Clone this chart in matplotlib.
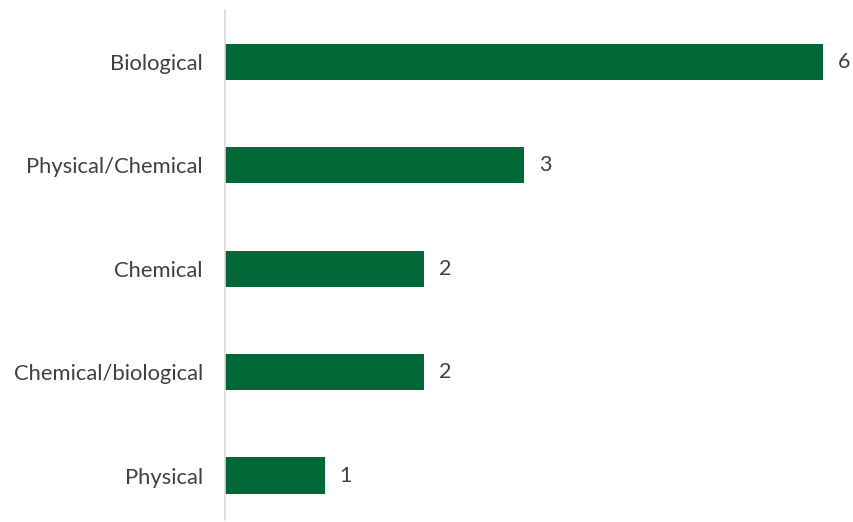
import matplotlib
matplotlib.use("Agg")
import matplotlib.pyplot as plt

categories = ["Physical", "Chemical/biological", "Chemical", "Physical/Chemical", "Biological"]
values = [1, 2, 2, 3, 6]

bar_color = "#006837"
text_color = "#404040"

fig = plt.figure(figsize=(8.54, 5.22), dpi=100)
ax = fig.add_axes([225/854, 2/522, 1 - 225/854, 510/522])

ypos = list(range(len(categories)))
ax.barh(ypos, values, height=0.35, color=bar_color)
for y, v in zip(ypos, values):
    ax.text(v + 0.15, y, str(v), va="center", ha="left", fontsize=15.5, color=text_color,
            family="Lato")

ax.set_xlim(0, (854 - 225) / 99.7)
ax.set_ylim(-0.43, 4.5)
ax.set_yticks(ypos)
ax.set_yticklabels(categories, fontsize=15.8, color=text_color, family="Lato")
ax.tick_params(axis="y", length=0, pad=16)
ax.set_xticks([])
for s in ["top", "right", "bottom"]:
    ax.spines[s].set_visible(False)
ax.spines["left"].set_color("#d9d9d9")
ax.spines["left"].set_linewidth(1.2)

fig.savefig("out.png", dpi=100)
